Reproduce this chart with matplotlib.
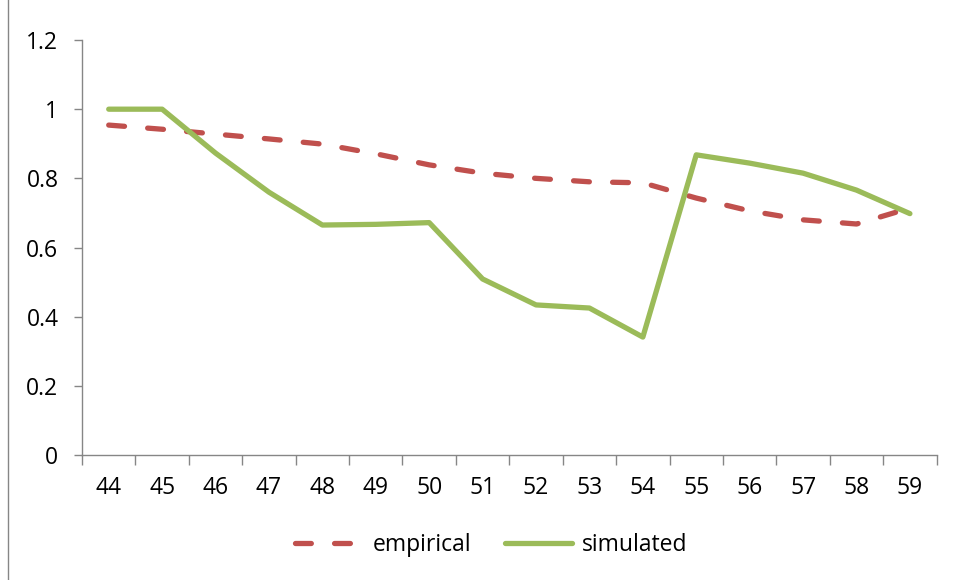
import matplotlib.pyplot as plt
from matplotlib.lines import Line2D

# категорії (вік) і дві серії
ages = ['44', '45', '46', '47', '48', '49', '50', '51', '52', '53', '54', '55', '56', '57', '58', '59']
empirical = [0.954, 0.942, 0.928, 0.914, 0.899, 0.871, 0.839, 0.815, 0.800, 0.790, 0.787, 0.743, 0.706, 0.680, 0.668, 0.714]
simulated = [1.0, 1.0, 0.873, 0.760, 0.665, 0.667, 0.672, 0.509, 0.434, 0.425, 0.341, 0.868, 0.844, 0.815, 0.766, 0.698]

plt.rcParams['font.family'] = ['Open Sans', 'DejaVu Sans']
fs = 16.5

fig = plt.figure(figsize=(9.57, 5.8), dpi=100)
ax = fig.add_axes([0.0857, 0.2155, 0.893, 0.7155])

x = list(range(len(ages)))
ax.plot(x, empirical, color='#C0504D', lw=3.8, linestyle=(0, (3.0, 4.4)),
        dash_capstyle='round', label='empirical')
ax.plot(x, simulated, color='#9BBB59', lw=3.8, solid_capstyle='round',
        solid_joinstyle='round', label='simulated')

ax.set_xlim(-0.5, len(ages) - 0.5)
ax.set_ylim(0, 1.2)
ax.set_yticks([0, 0.2, 0.4, 0.6, 0.8, 1.0, 1.2])
ax.set_yticklabels(['0', '0.2', '0.4', '0.6', '0.8', '1', '1.2'])
ax.set_xticks(x)
ax.set_xticklabels(ages)
ax.set_xticks([i - 0.5 for i in range(len(ages) + 1)], minor=True)
ax.tick_params(axis='x', which='major', length=0, pad=15, labelsize=fs, colors='black')
ax.tick_params(axis='x', which='minor', length=7, width=1, color='#868686')
ax.tick_params(axis='y', length=6, width=1, color='#868686', labelsize=fs, pad=11)

for s in ['top', 'right']:
    ax.spines[s].set_visible(False)
for s in ['left', 'bottom']:
    ax.spines[s].set_color('#868686')
    ax.spines[s].set_linewidth(1)

fig.legend(loc='center', bbox_to_anchor=(0.5136, 0.06), ncol=2, frameon=False,
           fontsize=fs, handlelength=2.9, columnspacing=1.5, handletextpad=0.45)

# рамка діаграми зліва
fig.add_artist(Line2D([8 / 957, 8 / 957], [0, 1], color='#868686', lw=1))

fig.savefig('out.png', dpi=100)
